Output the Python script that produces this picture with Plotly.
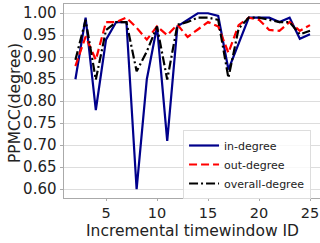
import plotly.graph_objects as go

x_ids = list(range(2, 26))
in_degree = [0.85, 0.99, 0.78, 0.94, 0.98, 0.98, 0.60, 0.85, 0.97, 0.71, 0.97, 0.985,
             1.00, 1.00, 0.994, 0.872, 0.93, 0.99, 0.99, 0.99, 0.98, 0.99, 0.942, 0.952]
out_degree = [0.88, 0.947, 0.894, 0.98, 0.98, 0.99, 0.967, 0.94, 0.97, 0.95, 0.974, 0.946,
              0.963, 0.98, 0.97, 0.91, 0.973, 0.99, 0.985, 0.962, 0.96, 0.98, 0.96, 0.973]
overall_degree = [0.894, 0.985, 0.849, 0.962, 0.98, 0.98, 0.868, 0.913, 0.97, 0.849, 0.974, 0.98,
                  0.99, 0.99, 0.985, 0.853, 0.965, 0.99, 0.99, 0.985, 0.98, 0.98, 0.952, 0.96]
y_ticks = [0.60, 0.65, 0.70, 0.75, 0.80, 0.85, 0.90, 0.95, 1.00]
x_ticks = [5, 10, 15, 20, 25]

font = "DejaVu Sans"
fig = go.Figure()
fig.add_trace(go.Scatter(x=x_ids, y=in_degree, mode="lines", name="in-degree",
                         line=dict(color="#00008b", width=2.2)))
fig.add_trace(go.Scatter(x=x_ids, y=out_degree, mode="lines", name="out-degree",
                         line=dict(color="red", width=2.2, dash="8px,4px")))
fig.add_trace(go.Scatter(x=x_ids, y=overall_degree, mode="lines", name="overall-degree",
                         line=dict(color="black", width=2.2, dash="9px,3px,2px,3px")))

fig.update_layout(
    width=320, height=243,
    margin=dict(l=64, r=0, t=4, b=45),
    paper_bgcolor="white", plot_bgcolor="white",
    font=dict(family=font, size=15, color="#222"),
    showlegend=True,
    legend=dict(x=0.465, y=(198 - 130) / 194, xanchor="left", yanchor="top",
                bgcolor="rgba(255,255,255,0.8)", bordercolor="#dddddd", borderwidth=1,
                font=dict(family=font, size=11, color="#222"),
                tracegroupgap=0, itemwidth=30),
    xaxis=dict(range=[0.88, 25.98], tickvals=x_ticks, showgrid=False, automargin=False,
               showline=True, linecolor="#aaaaaa", linewidth=1, mirror=True,
               ticks="outside", ticklen=2, tickcolor="#aaaaaa",
               tickfont=dict(size=14.5), zeroline=False),
    yaxis=dict(range=[0.58, 1.021], tickvals=y_ticks, tickformat=".2f", automargin=False,
               showgrid=True, gridcolor="#dddddd", gridwidth=1,
               showline=True, linecolor="#aaaaaa", linewidth=1,
               ticks="outside", ticklen=3.5, tickcolor="#aaaaaa",
               tickfont=dict(size=15), zeroline=False),
    annotations=[
        dict(text="Incremental timewindow ID", xref="paper", yref="paper",
             x=(192.5 - 64) / 256, y=-(231 - 198) / 194, xanchor="center", yanchor="middle",
             showarrow=False, font=dict(size=15.5, family=font, color="#222")),
        dict(text="PPMCC(degree)", xref="paper", yref="paper",
             x=-(64 - 15) / 256, y=(198 - 103) / 194, xanchor="center", yanchor="middle",
             textangle=-90, showarrow=False, font=dict(size=15.5, family=font, color="#222")),
    ],
)
fig.write_html("out.html", config={"displayModeBar": False},
               post_script="document.body.style.margin='0px';document.body.style.overflow='hidden';")
